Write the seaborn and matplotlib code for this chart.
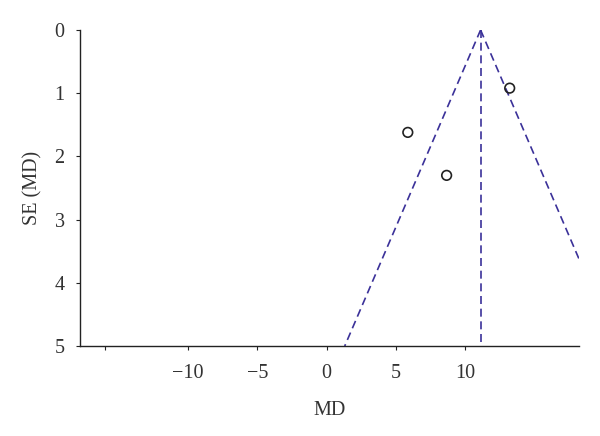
import matplotlib
matplotlib.use("Agg")
import matplotlib.pyplot as plt
import seaborn as sns
import pandas as pd

# study estimates
study_md = [13.2, 5.85, 8.65]
study_se = [0.92, 1.62, 2.30]

# pooled estimate and 95% pseudo confidence limits (end points)
pooled_md = 11.1
funnel_se = [0, 5]
left_md = [11.1, 1.3]
right_md = [11.1, 20.9]

xticks = [-16, -10, -5, 0, 5, 10]
xticklabels = ["", "\u221210", "\u22125", "0", "5", "10"]
yticks = [0, 1, 2, 3, 4, 5]

sns.set_style("ticks")
plt.rcParams["font.family"] = ["Liberation Serif", "DejaVu Serif"]

df = pd.DataFrame({"MD": study_md, "SE": study_se})

fig = plt.figure(figsize=(6, 4.36), dpi=100)
ax = fig.add_axes([0.1333, 0.2064, 0.8317, 0.7248])

line_col = "#3b3199"
dash = (4.8, 2.8)
ax.plot(left_md, funnel_se, color=line_col, lw=1.2, dashes=dash)
ax.plot(right_md, funnel_se, color=line_col, lw=1.2, dashes=dash)
ax.plot([pooled_md, pooled_md], funnel_se, color=line_col, lw=1.2, dashes=dash)

sns.scatterplot(data=df, x="MD", y="SE", ax=ax, marker="o", s=48,
                facecolor="none", edgecolor="#222222", linewidth=1.2, zorder=3)

ax.set_xlim(-17.8, 18.2)
ax.set_ylim(5, 0)
ax.set_xticks(xticks)
ax.set_xticklabels(xticklabels)
ax.set_yticks(yticks)
ax.tick_params(labelsize=14.5, length=3, colors="#222222", labelcolor="#333333")
ax.tick_params(axis="x", pad=10)
ax.tick_params(axis="y", pad=8)
ax.set_xlabel("MD", fontsize=14.5, color="#333333", labelpad=13)
ax.set_ylabel("SE (MD)", fontsize=14.5, color="#333333", labelpad=9)
for s in ["top", "right"]:
    ax.spines[s].set_visible(False)
for s in ["left", "bottom"]:
    ax.spines[s].set_color("#222222")
    ax.spines[s].set_linewidth(1.0)

fig.savefig("out.png", dpi=100)
